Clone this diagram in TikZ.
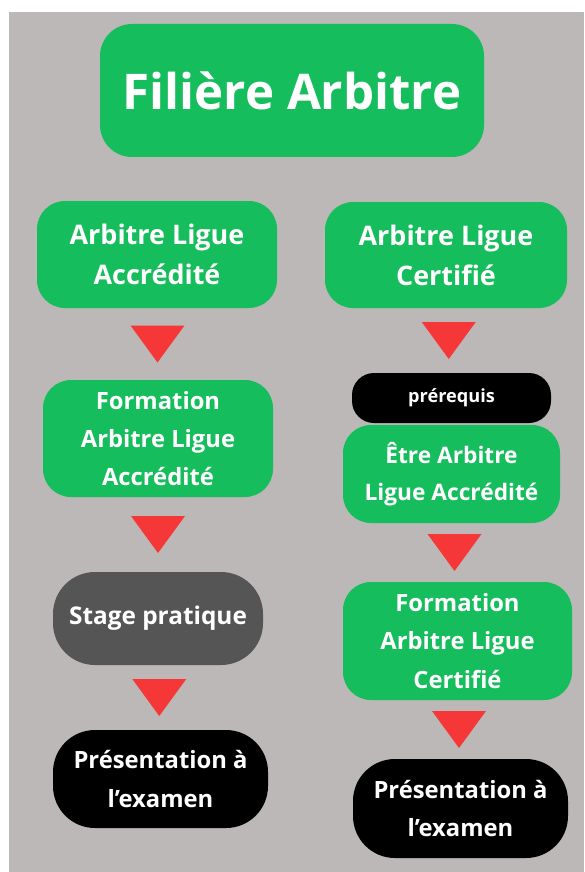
\documentclass[tikz,border=0pt]{standalone}
\usepackage{fontspec}
\setmainfont{Open Sans}
\usetikzlibrary{calc}

\definecolor{fondgris}{RGB}{188,184,183}
\definecolor{vertfiliere}{RGB}{22,189,92}
\definecolor{grisstage}{RGB}{85,85,85}
\definecolor{rougefleche}{RGB}{245,55,55}

\tikzset{
  boxsize/.style 2 args={minimum width=#1*0.03cm, minimum height=#2*0.03cm},
  taille/.style 2 args={font=\fontsize{#1}{#2}\selectfont\bfseries},
  etape/.style={rectangle, rounded corners=28*0.03cm, inner sep=0pt, align=center,
    text=white, taille={20.3}{32.5}},
  verte/.style={etape, fill=vertfiliere},
  noire/.style={etape, fill=black, rounded corners=42*0.03cm},
  grise/.style={etape, fill=grisstage, rounded corners=42*0.03cm},
  fleche/.style={fill=rougefleche}
}

\begin{document}
\begin{tikzpicture}[x=0.03cm,y=-0.03cm]
\fill[white] (0,0) rectangle (584,872);
\fill[fondgris] (9,12) rectangle (584,872);
\useasboundingbox (0,0) rectangle (584,872);

% titre
\node[verte, boxsize={384}{133}, rounded corners=32*0.03cm,
  taille={42}{48}] (titre) at (292,90.5) {Filière Arbitre};

% colonne gauche
\node[verte, boxsize={240}{107}, taille={23}{34}] (a1) at (157,254.5) {Arbitre Ligue\\Accrédité};
\node[verte, boxsize={230}{117}] (a2) at (158,438.5) {Formation\\Arbitre Ligue\\Accrédité};
\node[grise, boxsize={210}{93}, taille={20.8}{32}] (a3) at (158,618.5) {Stage pratique};
\node[noire, boxsize={215}{98}] (a4) at (160.5,779) {Présentation à\\l’examen};

% colonne droite
\node[verte, boxsize={242}{106}, taille={23}{34}] (c1) at (446,255) {Arbitre Ligue\\Certifié};
\node[noire, boxsize={199}{50}, rounded corners=22*0.03cm,
  taille={15.5}{18}] (pre) at (451.5,398) {prérequis};
\node[verte, boxsize={217}{98}, taille={19.4}{31}] (c2) at (451.5,474) {Être Arbitre\\Ligue Accrédité};
\node[verte, boxsize={229}{118}] (c3) at (457.5,641) {Formation\\Arbitre Ligue\\Certifié};
\node[noire, boxsize={215}{99}] (c4) at (460.5,808.5) {Présentation à\\l’examen};

% fleches
\foreach \a/\b in {a1/a2,a2/a3,a3/a4,c1/pre,c2/c3,c3/c4}{
  \path (\a.south) -- (\b.north) coordinate[midway] (m);
  \fill[fleche] ($(m)+(-27,-18.5)$) -- ($(m)+(27,-18.5)$) -- ($(m)+(0,18.5)$) -- cycle;
}
\end{tikzpicture}
\end{document}
